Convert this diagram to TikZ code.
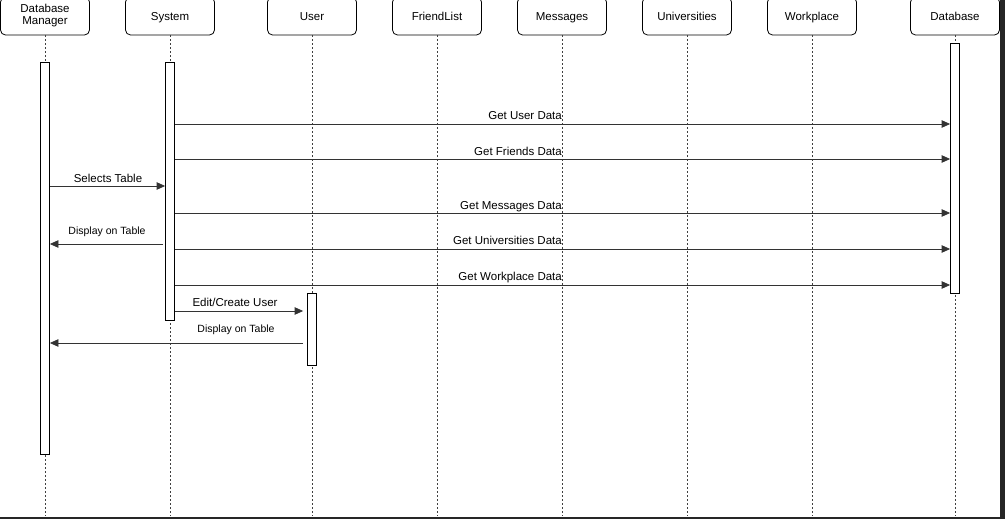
\documentclass[tikz,border=0pt]{standalone}
\usepackage{fontspec}
\setmainfont{Liberation Sans}
\usetikzlibrary{arrows.meta}

\begin{document}
\begin{tikzpicture}[x=1pt,y=-1pt,
    actor/.style={draw, line width=0.8pt, rounded corners=5pt, minimum width=89pt, minimum height=38pt, inner sep=0pt, align=center, font=\fontsize{11.5}{12}\selectfont},
    oneline/.style={text height=8.3pt, text depth=0pt},
    life/.style={line width=0.9pt, black!75, dash pattern=on 2pt off 2pt},
    bar/.style={draw, line width=0.8pt, fill=white, minimum width=9pt, inner sep=0pt},
    msg/.style={line width=0.8pt, black!80, -{Triangle[length=8.5pt,width=7.5pt]}},
    lbl/.style={font=\fontsize{11.5}{12}\selectfont, inner sep=0pt, text height=8.3pt, text depth=0pt},
    small/.style={font=\fontsize{10.5}{11}\selectfont, inner sep=0pt, text height=7.6pt, text depth=0pt}]
    \useasboundingbox (0,0) rectangle (1005,519);
    \fill[black!85] (1000,0) rectangle (1005,519);
    \fill[black!85] (0,517) rectangle (1005,519);

    % header boxes
    \node[actor] (dbm) at (45,16) {Database\\Manager};
    \node[actor, oneline] (sys) at (170,16) {System};
    \node[actor, oneline] (usr) at (312,16) {User};
    \node[actor, oneline] (fl) at (437,16) {FriendList};
    \node[actor, oneline] (msgs) at (562,16) {Messages};
    \node[actor, oneline] (uni) at (687,16) {Universities};
    \node[actor, oneline] (wp) at (812,16) {Workplace};
    \node[actor, oneline] (db) at (955,16) {Database};

    % lifelines
    \draw[life] (dbm.south) -- (dbm.south |- 0,516);
    \draw[life] (sys.south) -- (sys.south |- 0,516);
    \draw[life] (usr.south) -- (usr.south |- 0,516);
    \draw[life] (fl.south) -- (fl.south |- 0,516);
    \draw[life] (msgs.south) -- (msgs.south |- 0,516);
    \draw[life] (uni.south) -- (uni.south |- 0,516);
    \draw[life] (wp.south) -- (wp.south |- 0,516);
    \draw[life] (db.south) -- (db.south |- 0,516);

    % activation bars
    \node[bar, minimum height=392pt] (dbmbar) at (45,258) {};
    \node[bar, minimum height=258pt] (sysbar) at (170,191) {};
    \node[bar, minimum height=72pt] (usrbar) at (312,329) {};
    \node[bar, minimum height=250pt] (dbbar) at (955,168) {};

    % messages
    \draw[msg] (sysbar.east |- 0,124) -- (dbbar.west |- 0,124);
    \node[lbl, anchor=east] (l1) at (562,115) {Get User Data};

    \draw[msg] (sysbar.east |- 0,159) -- (dbbar.west |- 0,159);
    \node[lbl, anchor=east] (l2) at (562,151) {Get Friends Data};

    \draw[msg] (dbmbar.east |- 0,186) -- (sysbar.west |- 0,186);
    \node[lbl] (l3) at (108,178) {Selects Table};

    \draw[msg] (sysbar.east |- 0,213) -- (dbbar.west |- 0,213);
    \node[lbl, anchor=east] (l4) at (562,205) {Get Messages Data};

    \draw[msg] ([xshift=-2pt]sysbar.west |- 0,244) -- (dbmbar.east |- 0,244);
    \node[small] (l5) at (107,231) {Display on Table};

    \draw[msg] (sysbar.east |- 0,249) -- (dbbar.west |- 0,249);
    \node[lbl, anchor=east] (l6) at (562,240) {Get Universities Data};

    \draw[msg] (sysbar.east |- 0,285) -- (dbbar.west |- 0,285);
    \node[lbl, anchor=east] (l7) at (562,276) {Get Workplace Data};

    \draw[msg] (sysbar.east |- 0,311) -- ([xshift=-4pt]usrbar.west |- 0,311);
    \node[lbl] (l8) at (235,302) {Edit/Create User};

    \draw[msg] ([xshift=-4pt]usrbar.west |- 0,343) -- (dbmbar.east |- 0,343);
    \node[small] (l9) at (236,329) {Display on Table};
\end{tikzpicture}
\end{document}
